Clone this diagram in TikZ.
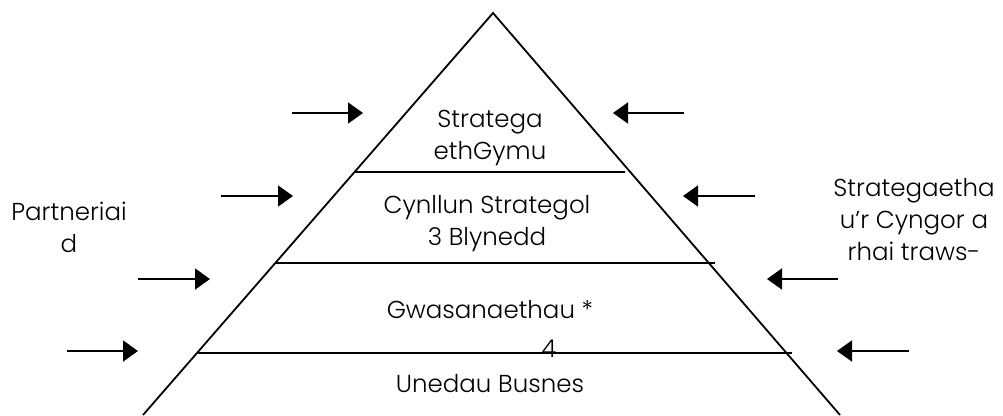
\documentclass[tikz,border=0pt]{standalone}
\usepackage{fontspec}
\setmainfont{Poppins Light}
\usetikzlibrary{arrows.meta,positioning}
\tikzstyle{tiertext} = [draw=none, fill=none, align=center, inner sep=0pt, font=\fontsize{24.5}{32}\selectfont]
\tikzstyle{pedge} = [draw, line width=1.8pt]
\tikzstyle{tarrow} = [draw, line width=1.8pt, -{Triangle[length=15pt,width=21pt]}]

\begin{document}
\begin{tikzpicture}[x=1pt, y=-1pt]
\useasboundingbox (0,0) rectangle (1003,415);

% pyramid ================================
\coordinate (apex) at (493,13);
\coordinate (bl) at (143,415);
\coordinate (br) at (840,415);
\path[pedge] (bl) -- (apex) -- (br);

% tiers
\coordinate (t1l) at (355,172);
\coordinate (t1r) at (625,172);
\coordinate (t2l) at (276,263);
\coordinate (t2r) at (715,263);
\coordinate (t3l) at (198,353);
\coordinate (t3r) at (792,353);
\path[pedge] (t1l) -- (t1r);
\path[pedge] (t2l) -- (t2r);
\path[pedge] (t3l) -- (t3r);

% texts
\node[tiertext] (strat) at (490,138) {Stratega\\ethGymu};
\node[tiertext] (cyn) at (487,224) {Cynllun Strategol\\3 Blynedd};
\node[tiertext] (gwas) at (490,310) {Gwasanaethau *};
\node[tiertext] (four) at (549,349) {4};
\node[tiertext] (uned) at (490,384) {Unedau Busnes};
\node[tiertext] (part) at (69,227) {Partneriai\\d};
\node[tiertext] (cyng) at (914,220) {Strategaetha\\u’r Cyngor a\\rhai traws-};

% arrows
\foreach \y/\xa/\xb/\n in {113/292/363/1, 196/221/293/2, 279/138/210/3, 351/67/138/4} {
  \coordinate (lt\n) at (\xa,\y);
  \coordinate (lh\n) at (\xb,\y);
  \path[tarrow] (lt\n) -- (lh\n);
}
\foreach \y/\xa/\xb/\n in {113/684/613/1, 196/755/683/2, 279/838/767/3, 351/909/837/4} {
  \coordinate (rt\n) at (\xa,\y);
  \coordinate (rh\n) at (\xb,\y);
  \path[tarrow] (rt\n) -- (rh\n);
}

\end{tikzpicture}
\end{document}
